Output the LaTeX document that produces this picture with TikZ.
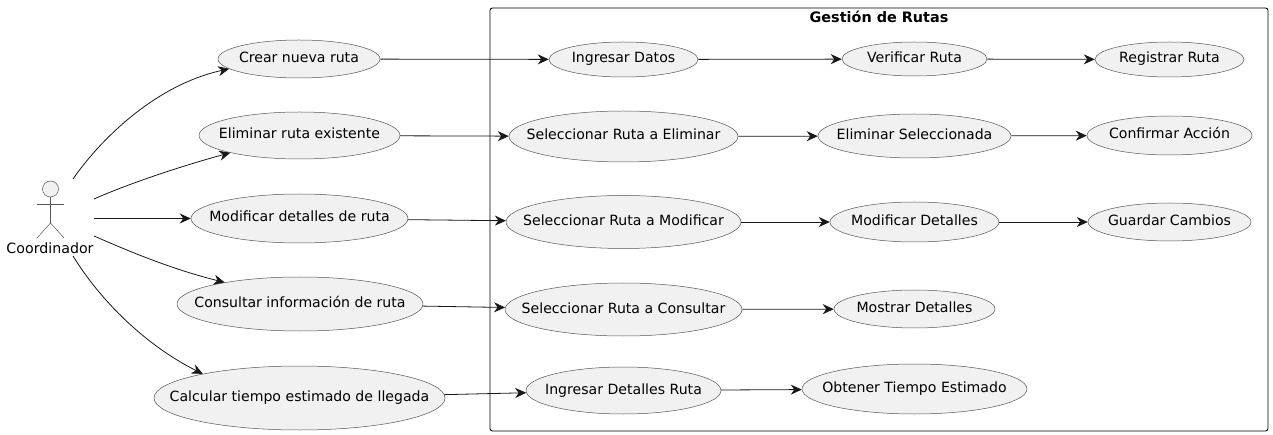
\documentclass[tikz,border=0pt]{standalone}
\usepackage{fontspec}
\setmainfont{DejaVu Sans}
\usetikzlibrary{shapes.geometric,arrows.meta}

\definecolor{linegray}{HTML}{181818}
\definecolor{edgegray}{HTML}{555555}
\definecolor{casegray}{HTML}{F1F1F1}

\tikzset{
  usecase/.style={ellipse,draw=edgegray,line width=0.5pt,fill=casegray,inner sep=0pt,font=\fontsize{14.1}{16}\selectfont},
  link/.style={draw=linegray,line width=0.8pt,-{Stealth[length=11pt,width=10pt,inset=3.5pt]}},
  stick/.style={draw=edgegray,line width=0.5pt}
}

\begin{document}
\begin{tikzpicture}[x=1pt,y=-1pt]
\useasboundingbox (0,0) rectangle (1273,435);

\draw[black,line width=0.9pt,rounded corners=2.5pt] (490,8) rectangle (1268,431);
\node (titulo) at (879,17) {\fontsize{14.4}{16}\selectfont\bfseries Gestión de Rutas};

\foreach \name/\x/\y/\w/\h/\txt in {
  crear/299/59/162/38/Crear nueva ruta,
  eliminar/299.5/135.5/201/47/Eliminar ruta existente,
  modificar/299.5/218.5/217/49/Modificar detalles de ruta,
  consultar/300/304/246/54/Consultar información de ruta,
  calcular/299.5/398/291/64/Calcular tiempo estimado de llegada,
  datos/623.5/59.5/149/35/Ingresar Datos,
  selelim/623.5/136.5/229/51/Seleccionar Ruta a Eliminar,
  selmod/623.5/222/235/53/Seleccionar Ruta a Modificar,
  selcons/623.5/309.5/237/53/Seleccionar Ruta a Consultar,
  detruta/623.5/390.5/195/47/Ingresar Detalles Ruta,
  verificar/914.5/59/145/34/Verificar Ruta,
  elimsel/914.5/136/193/44/Eliminar Seleccionada,
  moddet/914.5/222/169/40/Modificar Detalles,
  mostrar/914.5/309/161/38/Mostrar Detalles,
  tiempo/914.5/389/225/50/Obtener Tiempo Estimado,
  registrar/1169.5/59.5/149/35/Registrar Ruta,
  confirmar/1169.5/135.5/165/39/Confirmar Acción,
  guardar/1169.5/222/163/38/Guardar Cambios}
\node[usecase,minimum width=\w pt,minimum height=\h pt] (\name) at (\x,\y) {\makebox[0pt]{\smash{\raisebox{-3.5pt}{\txt}}}};

% actor
\coordinate (cuello) at (50.5,197);
\coordinate (cadera) at (50.5,223);
\coordinate (brazoi) at (37,204);
\coordinate (brazod) at (64,204);
\coordinate (piei) at (37,238);
\coordinate (pied) at (64,238);
\node[circle,stick,fill=casegray,minimum size=16pt,inner sep=0pt] (cabeza) at (50.5,189) {};
\draw[stick] (cuello)--(cadera);
\draw[stick] (brazoi)--(brazod);
\draw[stick] (piei)--(cadera)--(pied);
\node[font=\fontsize{14.2}{16}\selectfont] (coordinador) at (50,248) {Coordinador};

\coordinate (s1) at (73,179);
\coordinate (s2) at (94,199);
\coordinate (s3) at (94,218.5);
\coordinate (s4) at (94,236);
\coordinate (s5) at (73,256);

\draw[link] (s1) .. controls (100,140) and (155,85) .. (crear.188);
\draw[link] (s2) .. controls (130,183) and (185,165) .. (eliminar.194);
\draw[link] (s3)--(modificar);
\draw[link] (s4) .. controls (135,254) and (175,270) .. (consultar.164);
\draw[link] (s5) .. controls (100,300) and (145,345) .. (calcular.166);

\foreach \a/\b in {crear/datos,datos/verificar,verificar/registrar,
  eliminar/selelim,selelim/elimsel,elimsel/confirmar,
  modificar/selmod,selmod/moddet,moddet/guardar,
  consultar/selcons,selcons/mostrar,
  calcular/detruta,detruta/tiempo}
\draw[link] (\a)--(\b);

\end{tikzpicture}
\end{document}
